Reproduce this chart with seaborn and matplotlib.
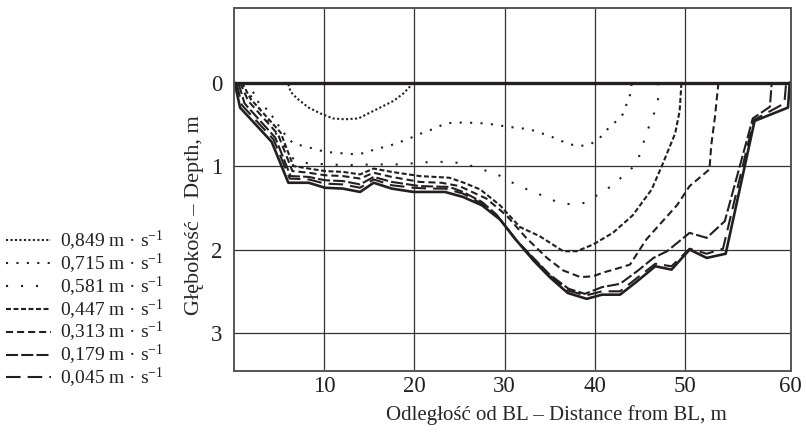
import numpy as np
import pandas as pd
import matplotlib
matplotlib.use("Agg")
import matplotlib.pyplot as plt
import seaborn as sns

# ---------------- data ----------------
series_labels = ["0,849 m · s$^{-1}$", "0,715 m · s$^{-1}$", "0,581 m · s$^{-1}$",
                 "0,447 m · s$^{-1}$", "0,313 m · s$^{-1}$", "0,179 m · s$^{-1}$",
                 "0,045 m · s$^{-1}$"]

x_0849 = [6.05, 6.3, 7.0, 8.3, 9.6, 11.0, 12.3, 13.8, 15.1, 16.4, 17.7, 18.8, 19.5, 19.8]
y_0849 = [0.02, 0.11, 0.19, 0.30, 0.37, 0.43, 0.44, 0.43, 0.36, 0.29, 0.22, 0.13, 0.05, 0.0]

x_0715 = [1.6, 2.8, 3.8, 5.0, 5.8, 6.6, 8.8, 10.1, 12.3, 13.5, 14.7, 15.8, 16.9, 19.0, 20.1,
          21.2, 22.3, 23.4, 24.5, 25.8, 28.0, 30.4, 32.8, 35.0, 37.2, 38.4, 39.5, 40.5,
          41.3, 42.2, 43.1, 43.9, 44.1]
y_0715 = [0.0, 0.25, 0.33, 0.52, 0.64, 0.73, 0.79, 0.83, 0.85, 0.86, 0.84, 0.79, 0.77, 0.69,
          0.64, 0.59, 0.55, 0.49, 0.48, 0.48, 0.49, 0.53, 0.56, 0.64, 0.74, 0.76, 0.74, 0.67,
          0.57, 0.48, 0.38, 0.15, 0.0]

x_0581 = [1.0, 2.0, 3.3, 4.5, 5.5, 6.3, 6.9, 8.4, 10.5, 12.5, 15.5, 18.8, 20.4, 22.3, 24.1,
          25.8, 27.5, 29.2, 30.7, 32.3, 33.9, 35.6, 37.3, 39.0, 40.5, 42.0, 43.2, 44.6, 45.2,
          45.7, 46.4, 47.0, 47.0]
y_0581 = [0.0, 0.18, 0.38, 0.58, 0.75, 0.88, 0.94, 0.97, 0.98, 0.99, 0.98, 0.98, 0.96, 0.95,
          0.95, 0.98, 1.04, 1.10, 1.19, 1.27, 1.34, 1.42, 1.46, 1.44, 1.33, 1.23, 1.11, 0.98,
          0.79, 0.61, 0.42, 0.24, 0.0]

x_0447 = [0.9, 1.9, 5.2, 6.6, 8.3, 10.1, 12.1, 14.0, 15.5, 17.5, 20.6, 23.9, 25.5, 27.3, 29.5,
          31.7, 33.9, 36.5, 38.0, 39.8, 42.0, 44.2, 46.3, 47.5, 48.9, 49.4, 49.6]
y_0447 = [0.0, 0.2, 0.6, 1.0, 1.03, 1.06, 1.07, 1.10, 1.03, 1.07, 1.12, 1.14, 1.20, 1.28, 1.47,
          1.73, 1.84, 2.02, 2.02, 1.94, 1.80, 1.59, 1.28, 0.98, 0.61, 0.34, 0.0]

x_0313 = [0.7, 1.6, 4.9, 6.5, 8.3, 10.1, 12.1, 14.0, 15.5, 17.5, 20.6, 23.0, 25.0, 28.0, 30.2,
          32.4, 34.7, 36.5, 38.4, 39.8, 41.1, 42.4, 43.9, 45.7, 47.1, 49.1, 50.5, 52.7, 52.9,
          53.3, 53.7]
y_0313 = [0.0, 0.22, 0.62, 1.06, 1.08, 1.11, 1.12, 1.15, 1.08, 1.13, 1.19, 1.20, 1.24, 1.39,
          1.59, 1.86, 2.10, 2.25, 2.33, 2.32, 2.27, 2.23, 2.18, 1.88, 1.71, 1.47, 1.24, 1.04,
          0.75, 0.42, 0.0]

x_0179 = [0.5, 1.2, 4.6, 6.3, 8.3, 10.1, 12.1, 14.0, 15.5, 17.5, 20.6, 23.9, 25.4, 27.5, 29.1,
          31.2, 33.2, 35.0, 37.1, 38.9, 40.8, 42.8, 44.8, 46.5, 48.0, 50.5, 52.4, 54.4, 57.5,
          59.4, 59.6]
y_0179 = [0.0, 0.25, 0.66, 1.12, 1.13, 1.17, 1.18, 1.22, 1.13, 1.19, 1.24, 1.25, 1.31, 1.43,
          1.58, 1.88, 2.10, 2.30, 2.47, 2.53, 2.45, 2.41, 2.25, 2.10, 2.02, 1.80, 1.86, 1.66,
          0.43, 0.29, 0.0]

x_0045 = [0.3, 0.9, 4.4, 6.2, 8.3, 10.1, 12.1, 14.0, 15.5, 17.5, 19.9, 21.7, 23.4, 25.4, 27.5,
          29.3, 31.3, 33.2, 35.0, 37.0, 39.0, 40.8, 42.8, 44.8, 46.7, 48.5, 50.5, 52.4, 54.2,
          57.6, 61.0, 61.2]
y_0045 = [0.0, 0.27, 0.68, 1.15, 1.16, 1.21, 1.22, 1.26, 1.16, 1.23, 1.26, 1.27, 1.27, 1.33,
          1.45, 1.61, 1.89, 2.11, 2.31, 2.49, 2.55, 2.50, 2.50, 2.33, 2.17, 2.20, 1.99, 2.05,
          1.99, 0.45, 0.25, 0.0]

bed_x = [0.1, 0.7, 4.2, 6.05, 8.3, 10.1, 12.1, 14.0, 15.5, 17.5, 19.9, 21.7, 23.4, 25.4, 27.5,
         29.5, 31.4, 33.2, 35.0, 37.0, 39.1, 40.8, 42.8, 44.8, 46.7, 48.5, 50.5, 52.4, 54.5,
         57.7, 61.4, 61.6]
bed_y = [0.0, 0.30, 0.71, 1.20, 1.20, 1.26, 1.27, 1.31, 1.20, 1.27, 1.31, 1.31, 1.31, 1.37,
         1.47, 1.64, 1.90, 2.13, 2.33, 2.52, 2.59, 2.54, 2.54, 2.37, 2.20, 2.24, 2.00, 2.10,
         2.05, 0.46, 0.30, 0.0]

xtick_labels = ["10", "20", "30", "40", "50", "60"]
ytick_values = [0, 1, 2, 3]

# ---------------- build long table ----------------
xs = [x_0849, x_0715, x_0581, x_0447, x_0313, x_0179, x_0045]
ys = [y_0849, y_0715, y_0581, y_0447, y_0313, y_0179, y_0045]
frames = [pd.DataFrame({"x": xv, "depth": yv, "series": lab})
          for xv, yv, lab in zip(xs, ys, series_labels)]
df = pd.concat(frames, ignore_index=True)
bed = pd.DataFrame({"x": bed_x, "depth": bed_y})

# ---------------- style ----------------
sns.set_theme(style="white")
plt.rcParams["font.family"] = ["Liberation Serif", "DejaVu Serif"]
plt.rcParams["mathtext.fontset"] = "custom"
plt.rcParams["mathtext.rm"] = "Liberation Serif"
plt.rcParams["mathtext.it"] = "Liberation Serif:italic"
plt.rcParams["text.color"] = "#231f20"

dash_styles = {
    series_labels[0]: (1.0, 1.15),
    series_labels[1]: (1.0, 4.0),
    series_labels[2]: (1.0, 6.2),
    series_labels[3]: (2.4, 1.2),
    series_labels[4]: (3.4, 1.9),
    series_labels[5]: (5.8, 1.5),
    series_labels[6]: (7.0, 3.4),
}

fig = plt.figure(figsize=(8.06, 4.32), dpi=100)
ax = fig.add_axes([0.290, 0.142, 0.691, 0.839])

sns.lineplot(data=df, x="x", y="depth", hue="series", style="series",
             hue_order=series_labels, style_order=series_labels,
             palette=["#231f20"] * len(series_labels), dashes=dash_styles,
             sort=False, estimator=None, linewidth=1.5, ax=ax, legend=True)
old = ax.get_legend()
handles = list(old.legend_handles)
labels = [t.get_text() for t in old.get_texts()]
old.remove()

sns.lineplot(data=bed, x="x", y="depth", color="#231f20", linewidth=1.9,
             sort=False, estimator=None, ax=ax, legend=False)

ax.axhline(0, color="#231f20", lw=2.4, zorder=1)

xmax = 61.7
ax.set_xlim(0, xmax)
ax.set_ylim(3.45, -0.89)
ax.set_xticks([10, 20, 30, 40, 50, xmax])
ax.set_xticklabels(xtick_labels)
ax.set_yticks(ytick_values)
ax.grid(True, color="#333333", lw=0.9)
ax.tick_params(length=0, labelsize=16.5, colors="#231f20")
ax.tick_params(axis="x", pad=4)
ax.tick_params(axis="y", pad=8)
for s in ax.spines.values():
    s.set_color("#555555")
    s.set_linewidth(1.4)

ax.set_xlabel("Odległość od BL – Distance from BL, m", fontsize=15)
ax.xaxis.set_label_coords((556 - 233.7) / 557.0, -0.094)
ax.set_ylabel("Głębokość – Depth, m", fontsize=16)
ax.yaxis.set_label_coords((204 - 233.7) / 557.0, (370.7 - 215) / 362.4)

fig.legend(handles, labels, loc="upper left", bbox_to_anchor=(0.008, 1 - 229 / 432),
           bbox_transform=fig.transFigure, frameon=False, fontsize=14,
           handlelength=2.3, handletextpad=0.45, labelspacing=-0.06,
           borderaxespad=0.0, borderpad=0.0)

fig.savefig("out.png", dpi=100)
